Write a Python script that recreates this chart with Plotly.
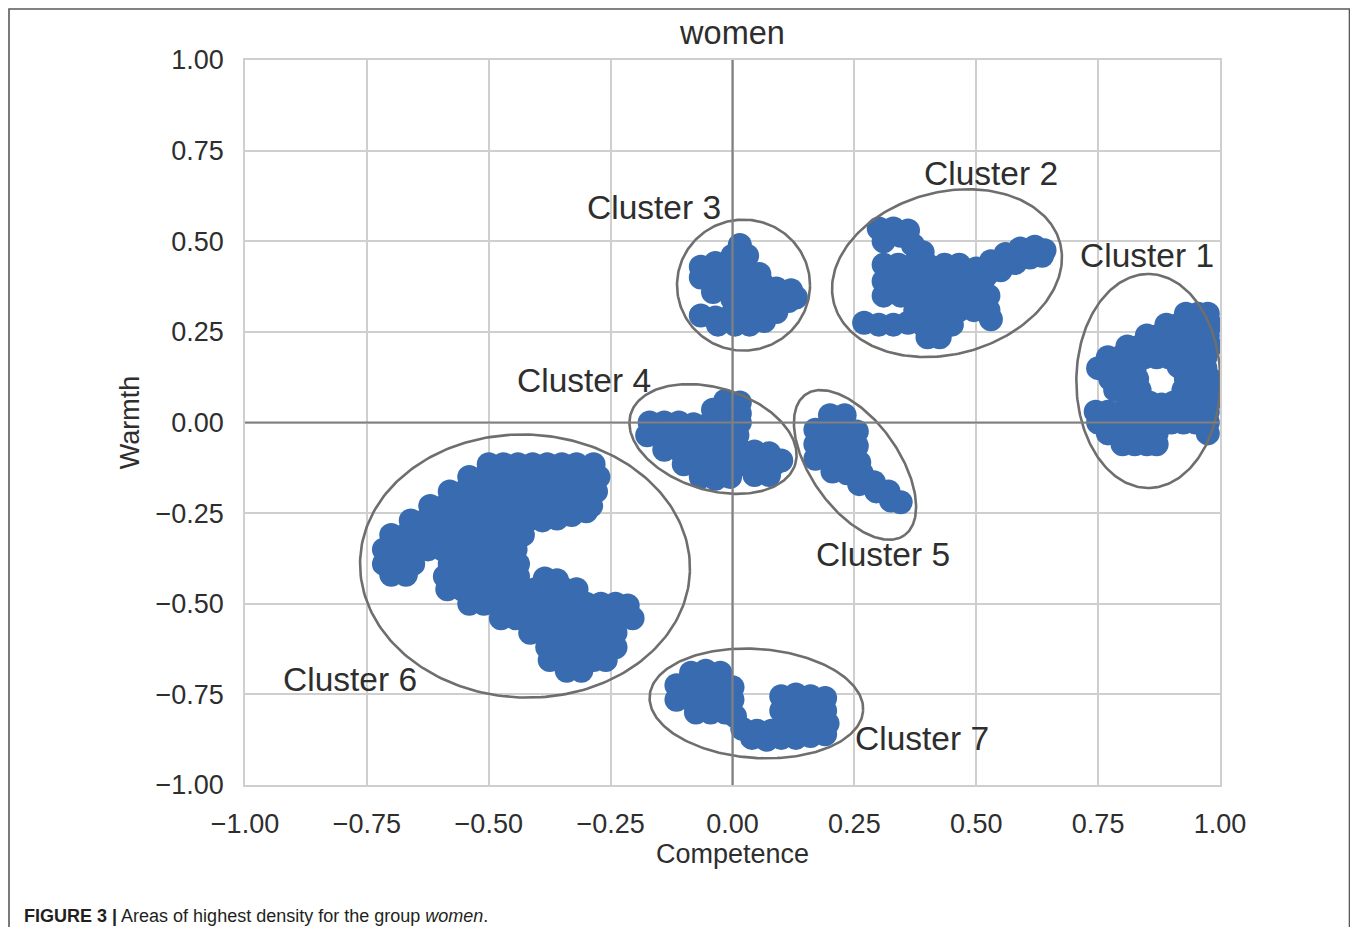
import numpy as np
import plotly.graph_objects as go

# ---------------- data (Competence, Warmth) ----------------
cluster1 = [
    (0.93, 0.30), (0.955, 0.30), (0.975, 0.30),
    (0.89, 0.27), (0.915, 0.27), (0.94, 0.27), (0.965, 0.27), (0.98, 0.27),
    (0.85, 0.24), (0.875, 0.24), (0.90, 0.24), (0.925, 0.24), (0.95, 0.24), (0.975, 0.24),
    (0.81, 0.21), (0.835, 0.21), (0.86, 0.21), (0.885, 0.21), (0.91, 0.21), (0.935, 0.21), (0.96, 0.21), (0.98, 0.21),
    (0.77, 0.18), (0.795, 0.18), (0.82, 0.18), (0.845, 0.18), (0.87, 0.18), (0.895, 0.18), (0.92, 0.18), (0.945, 0.18), (0.97, 0.18),
    (0.75, 0.15), (0.775, 0.15), (0.80, 0.15), (0.825, 0.15), (0.915, 0.155), (0.945, 0.15), (0.97, 0.15),
    (0.775, 0.12), (0.80, 0.12), (0.83, 0.12), (0.93, 0.12), (0.955, 0.12), (0.98, 0.12),
    (0.785, 0.09), (0.81, 0.09), (0.835, 0.09), (0.925, 0.09), (0.95, 0.09), (0.975, 0.09),
    (0.83, 0.06), (0.855, 0.055), (0.88, 0.05), (0.905, 0.055), (0.93, 0.06), (0.955, 0.06), (0.98, 0.06),
    (0.745, 0.03), (0.77, 0.03), (0.80, 0.03), (0.825, 0.03), (0.85, 0.03), (0.875, 0.03), (0.90, 0.03), (0.925, 0.03), (0.95, 0.03), (0.975, 0.03),
    (0.75, 0.00), (0.775, 0.00), (0.80, 0.00), (0.825, 0.00), (0.85, 0.00), (0.875, 0.00), (0.90, 0.00), (0.925, 0.00), (0.95, 0.00), (0.975, 0.00),
    (0.77, -0.03), (0.795, -0.03), (0.82, -0.03), (0.845, -0.03), (0.87, -0.03), (0.975, -0.03),
    (0.80, -0.06), (0.825, -0.06), (0.85, -0.06), (0.87, -0.06),
]

cluster2 = [
    (0.30, 0.535), (0.33, 0.535), (0.36, 0.53),
    (0.31, 0.50), (0.345, 0.515), (0.37, 0.49), (0.39, 0.47),
    (0.31, 0.435), (0.34, 0.435), (0.37, 0.435), (0.40, 0.435), (0.435, 0.435), (0.465, 0.435),
    (0.50, 0.425), (0.53, 0.445), (0.56, 0.465), (0.59, 0.48), (0.62, 0.485), (0.64, 0.475),
    (0.52, 0.405), (0.55, 0.42), (0.58, 0.44), (0.61, 0.455), (0.635, 0.46),
    (0.31, 0.39), (0.345, 0.39), (0.375, 0.39), (0.405, 0.39), (0.435, 0.39), (0.465, 0.39), (0.495, 0.39),
    (0.31, 0.35), (0.345, 0.35), (0.375, 0.35), (0.405, 0.35), (0.435, 0.35), (0.465, 0.35), (0.495, 0.35), (0.525, 0.35),
    (0.375, 0.31), (0.405, 0.31), (0.435, 0.31), (0.465, 0.31), (0.495, 0.31), (0.525, 0.31), (0.53, 0.285),
    (0.27, 0.275), (0.30, 0.27), (0.33, 0.27), (0.36, 0.275), (0.39, 0.27), (0.42, 0.27), (0.45, 0.27),
    (0.40, 0.235), (0.425, 0.235),
]

cluster3 = [
    (0.015, 0.49), (0.03, 0.46), (0.0, 0.46),
    (-0.065, 0.43), (-0.035, 0.44), (-0.065, 0.40), (-0.035, 0.41),
    (0.0, 0.42), (0.03, 0.42), (0.055, 0.41),
    (-0.04, 0.36), (0.0, 0.38), (0.03, 0.38), (0.06, 0.385), (0.09, 0.37), (0.12, 0.365), (0.13, 0.345),
    (0.0, 0.34), (0.03, 0.34), (0.06, 0.34), (0.09, 0.33), (0.115, 0.335),
    (-0.065, 0.295), (-0.035, 0.29), (0.0, 0.30), (0.03, 0.295), (0.06, 0.30), (0.09, 0.305),
    (-0.03, 0.27), (0.005, 0.27), (0.035, 0.27), (0.065, 0.28),
]

cluster4 = [
    (-0.015, 0.06), (0.015, 0.055), (-0.04, 0.035), (0.015, 0.025),
    (-0.17, 0.0), (-0.14, 0.0), (-0.11, 0.0), (-0.08, -0.005), (-0.045, 0.0), (-0.015, 0.0), (0.015, 0.0),
    (-0.175, -0.035), (-0.145, -0.035), (-0.11, -0.035), (-0.08, -0.035), (-0.05, -0.035), (-0.02, -0.035), (0.01, -0.035),
    (-0.14, -0.075), (-0.11, -0.075), (-0.08, -0.075), (-0.045, -0.075), (-0.015, -0.075), (0.015, -0.075), (0.045, -0.08), (0.075, -0.085),
    (-0.10, -0.115), (-0.065, -0.115), (-0.035, -0.115), (-0.005, -0.115), (0.025, -0.115), (0.055, -0.115), (0.085, -0.115), (0.10, -0.105),
    (-0.065, -0.15), (-0.035, -0.155), (-0.005, -0.15), (0.045, -0.145), (0.075, -0.145),
]

cluster5 = [
    (0.20, 0.02), (0.23, 0.02),
    (0.17, -0.02), (0.20, -0.02), (0.23, -0.02), (0.255, -0.025),
    (0.17, -0.06), (0.20, -0.06), (0.23, -0.06), (0.255, -0.065),
    (0.17, -0.10), (0.20, -0.10), (0.23, -0.10), (0.26, -0.11),
    (0.205, -0.135), (0.235, -0.14), (0.265, -0.14),
    (0.26, -0.17), (0.29, -0.165), (0.295, -0.19), (0.32, -0.19), (0.325, -0.215), (0.345, -0.22),
]

cluster6 = [
    (-0.50, -0.115), (-0.47, -0.115), (-0.44, -0.115), (-0.41, -0.115), (-0.38, -0.115), (-0.35, -0.115), (-0.32, -0.115), (-0.285, -0.115),
    (-0.54, -0.15), (-0.51, -0.15), (-0.48, -0.15), (-0.45, -0.15), (-0.42, -0.15), (-0.39, -0.15), (-0.36, -0.15), (-0.33, -0.15), (-0.30, -0.15), (-0.275, -0.15),
    (-0.58, -0.19), (-0.55, -0.19), (-0.52, -0.19), (-0.49, -0.19), (-0.46, -0.19), (-0.43, -0.19), (-0.40, -0.19), (-0.37, -0.19), (-0.34, -0.19), (-0.31, -0.19), (-0.28, -0.19),
    (-0.62, -0.23), (-0.59, -0.23), (-0.56, -0.23), (-0.53, -0.23), (-0.50, -0.23), (-0.47, -0.23), (-0.44, -0.23), (-0.41, -0.23), (-0.38, -0.23), (-0.35, -0.23), (-0.32, -0.23), (-0.29, -0.23),
    (-0.36, -0.265), (-0.33, -0.255), (-0.30, -0.245),
    (-0.66, -0.27), (-0.63, -0.27), (-0.60, -0.27), (-0.57, -0.27), (-0.54, -0.27), (-0.51, -0.27), (-0.48, -0.27), (-0.45, -0.27), (-0.42, -0.27), (-0.39, -0.27),
    (-0.70, -0.31), (-0.67, -0.31), (-0.64, -0.31), (-0.61, -0.31), (-0.58, -0.31), (-0.55, -0.31), (-0.52, -0.31), (-0.49, -0.31), (-0.46, -0.31), (-0.43, -0.31),
    (-0.715, -0.35), (-0.685, -0.35), (-0.655, -0.35), (-0.625, -0.35), (-0.595, -0.35), (-0.565, -0.35), (-0.535, -0.35), (-0.505, -0.35), (-0.475, -0.35), (-0.445, -0.35),
    (-0.715, -0.39), (-0.685, -0.39), (-0.655, -0.39), (-0.58, -0.39), (-0.55, -0.39), (-0.52, -0.39), (-0.49, -0.39), (-0.46, -0.39), (-0.44, -0.39),
    (-0.70, -0.42), (-0.67, -0.42),
    (-0.59, -0.425), (-0.56, -0.425), (-0.53, -0.425), (-0.50, -0.425), (-0.47, -0.425), (-0.44, -0.425), (-0.385, -0.43), (-0.36, -0.435),
    (-0.585, -0.46), (-0.555, -0.46), (-0.525, -0.46), (-0.495, -0.46), (-0.465, -0.46), (-0.435, -0.46), (-0.405, -0.46), (-0.375, -0.46), (-0.345, -0.46), (-0.32, -0.46),
    (-0.54, -0.50), (-0.51, -0.50), (-0.48, -0.50), (-0.45, -0.50), (-0.42, -0.50), (-0.39, -0.50), (-0.36, -0.50), (-0.33, -0.50), (-0.30, -0.50), (-0.27, -0.50), (-0.24, -0.50), (-0.215, -0.505),
    (-0.475, -0.54), (-0.445, -0.54), (-0.415, -0.54), (-0.385, -0.54), (-0.355, -0.54), (-0.325, -0.54), (-0.295, -0.54), (-0.265, -0.54), (-0.235, -0.54), (-0.205, -0.54),
    (-0.415, -0.58), (-0.385, -0.58), (-0.355, -0.58), (-0.325, -0.58), (-0.295, -0.58), (-0.265, -0.58), (-0.24, -0.58),
    (-0.38, -0.62), (-0.35, -0.62), (-0.32, -0.62), (-0.29, -0.62), (-0.26, -0.62), (-0.24, -0.62),
    (-0.375, -0.655), (-0.345, -0.655), (-0.315, -0.655), (-0.285, -0.655), (-0.26, -0.655),
    (-0.34, -0.685), (-0.31, -0.685),
]

cluster7 = [
    (-0.085, -0.69), (-0.055, -0.685), (-0.025, -0.69),
    (-0.115, -0.725), (-0.085, -0.725), (-0.055, -0.725), (-0.025, -0.725), (0.0, -0.73),
    (-0.115, -0.765), (-0.085, -0.765), (-0.055, -0.765), (-0.025, -0.765), (0.0, -0.765),
    (-0.075, -0.80), (-0.045, -0.80), (-0.015, -0.80), (0.005, -0.81),
    (0.02, -0.845), (0.05, -0.85), (0.08, -0.85), (0.11, -0.845), (0.14, -0.845), (0.17, -0.84), (0.195, -0.83),
    (0.04, -0.87), (0.07, -0.875), (0.10, -0.87), (0.13, -0.87), (0.16, -0.865), (0.19, -0.86),
    (0.10, -0.755), (0.13, -0.75), (0.16, -0.755), (0.19, -0.76),
    (0.10, -0.795), (0.13, -0.795), (0.16, -0.795), (0.19, -0.795),
]

clusters = [cluster1, cluster2, cluster3, cluster4, cluster5, cluster6, cluster7]
cluster_names = ["Cluster 1", "Cluster 2", "Cluster 3", "Cluster 4", "Cluster 5", "Cluster 6", "Cluster 7"]
tick_values = [-1.0, -0.75, -0.5, -0.25, 0.0, 0.25, 0.5, 0.75, 1.0]

# ---------------- layout geometry / annotation placement ----------------
PAGE_OFF = 8                      # default body margin of the html page
W, H = 1358 - 2 * PAGE_OFF, 935 - 2 * PAGE_OFF
ML, MT = 245 - PAGE_OFF, 60 - PAGE_OFF
PLOT_W, PLOT_H = 975, 725
MR, MB = W - ML - PLOT_W, H - MT - PLOT_H
SX, SY = PLOT_W / 2.0, PLOT_H / 2.0  # pixels per data unit

# ellipse: centre (data), semi-axes (pixels), screen angle (deg, ccw)
ellipses = [
    (0.853, 0.1145, 72, 107, 0),
    (0.440, 0.412, 117, 81, 15),
    (0.0226, 0.379, 66.5, 65.5, 0),
    (-0.040, -0.0455, 86, 51, -17),
    (0.2513, -0.117, 86, 44, -55),
    (-0.4256, -0.396, 165, 131.5, -2),
    (0.049, -0.775, 107, 54.5, -4),
]
label_pos = [
    (0.851, 0.462), (0.530, 0.688), (-0.161, 0.592), (-0.305, 0.117),
    (0.309, -0.363), (-0.785, -0.710), (0.389, -0.873),
]

BLUE = "#386bb0"
GRID = "#cfcfcf"
TEXT = "#2e2e2e"
FONT = "Liberation Sans, Arial, Helvetica, sans-serif"

fig = go.Figure()

for pts in clusters:
    fig.add_trace(go.Scatter(
        x=[p[0] for p in pts], y=[p[1] for p in pts], mode="markers",
        marker=dict(size=24, color=BLUE, opacity=1.0, line=dict(width=0)),
        hoverinfo="skip", showlegend=False, cliponaxis=True,
    ))

t = np.linspace(0, 2 * np.pi, 240)
for cx, cy, a, b, ang in ellipses:
    th = np.deg2rad(ang)
    u = a * np.cos(t) * np.cos(th) - b * np.sin(t) * np.sin(th)
    v = a * np.cos(t) * np.sin(th) + b * np.sin(t) * np.cos(th)
    fig.add_trace(go.Scatter(
        x=cx + u / SX, y=cy + v / SY, mode="lines",
        line=dict(color="#6e6e6e", width=2.6), hoverinfo="skip", showlegend=False,
    ))

# page coords -> paper coords of this figure
def px_to_paper_x(px):
    return (px - PAGE_OFF - ML) / PLOT_W

def py_to_paper_y(py):
    return (MT + PLOT_H - (py - PAGE_OFF)) / PLOT_H

shapes = [
    dict(type="line", xref="x", yref="paper", x0=0, x1=0, y0=0, y1=1,
         line=dict(color="#808080", width=2.2), layer="above"),
    dict(type="line", xref="paper", yref="y", x0=0, x1=1, y0=0, y1=0,
         line=dict(color="#808080", width=2.2), layer="above"),
    dict(type="rect", xref="paper", yref="paper",
         x0=px_to_paper_x(9), x1=px_to_paper_x(1349.5),
         y0=py_to_paper_y(960), y1=py_to_paper_y(9),
         line=dict(color="#5a5a5a", width=1.6), layer="below"),
]

annotations = []
for name, (lx, ly) in zip(cluster_names, label_pos):
    annotations.append(dict(x=lx, y=ly, xref="x", yref="y", text=name, showarrow=False,
                            font=dict(size=33.5, color=TEXT, family=FONT),
                            xanchor="center", yanchor="middle"))
annotations.append(dict(
    x=px_to_paper_x(22), y=py_to_paper_y(916), xref="paper", yref="paper",
    text="<b>FIGURE 3 |</b> Areas of highest density for the group <i>women</i>.",
    showarrow=False, xanchor="left", yanchor="middle",
    font=dict(size=18, color="#231f20", family=FONT)))

axis_common = dict(
    range=[-1, 1], tickvals=tick_values, tickformat=".2f",
    showgrid=True, gridcolor=GRID, gridwidth=1.5, zeroline=False,
    showline=True, linecolor=GRID, linewidth=1.5, mirror=True,
    ticks="", tickfont=dict(size=27, color=TEXT, family=FONT),
    ticklabelstandoff=14,
)

fig.update_layout(
    width=W, height=H, autosize=False,
    margin=dict(l=ML, r=MR, t=MT, b=MB),
    paper_bgcolor="white", plot_bgcolor="white",
    font=dict(family=FONT, color=TEXT),
    title=dict(text="women", x=(ML + PLOT_W / 2) / W, xanchor="center", y=1 - 25 / H, yanchor="middle",
               font=dict(size=32.5, color=TEXT, family=FONT)),
    xaxis=dict(**axis_common, title=dict(text="Competence", standoff=6,
                                         font=dict(size=27, color=TEXT, family=FONT))),
    yaxis=dict(**axis_common, title=dict(text="Warmth", standoff=8,
                                         font=dict(size=27, color=TEXT, family=FONT))),
    shapes=shapes, annotations=annotations, showlegend=False,
)

fig.write_html("out.html")
